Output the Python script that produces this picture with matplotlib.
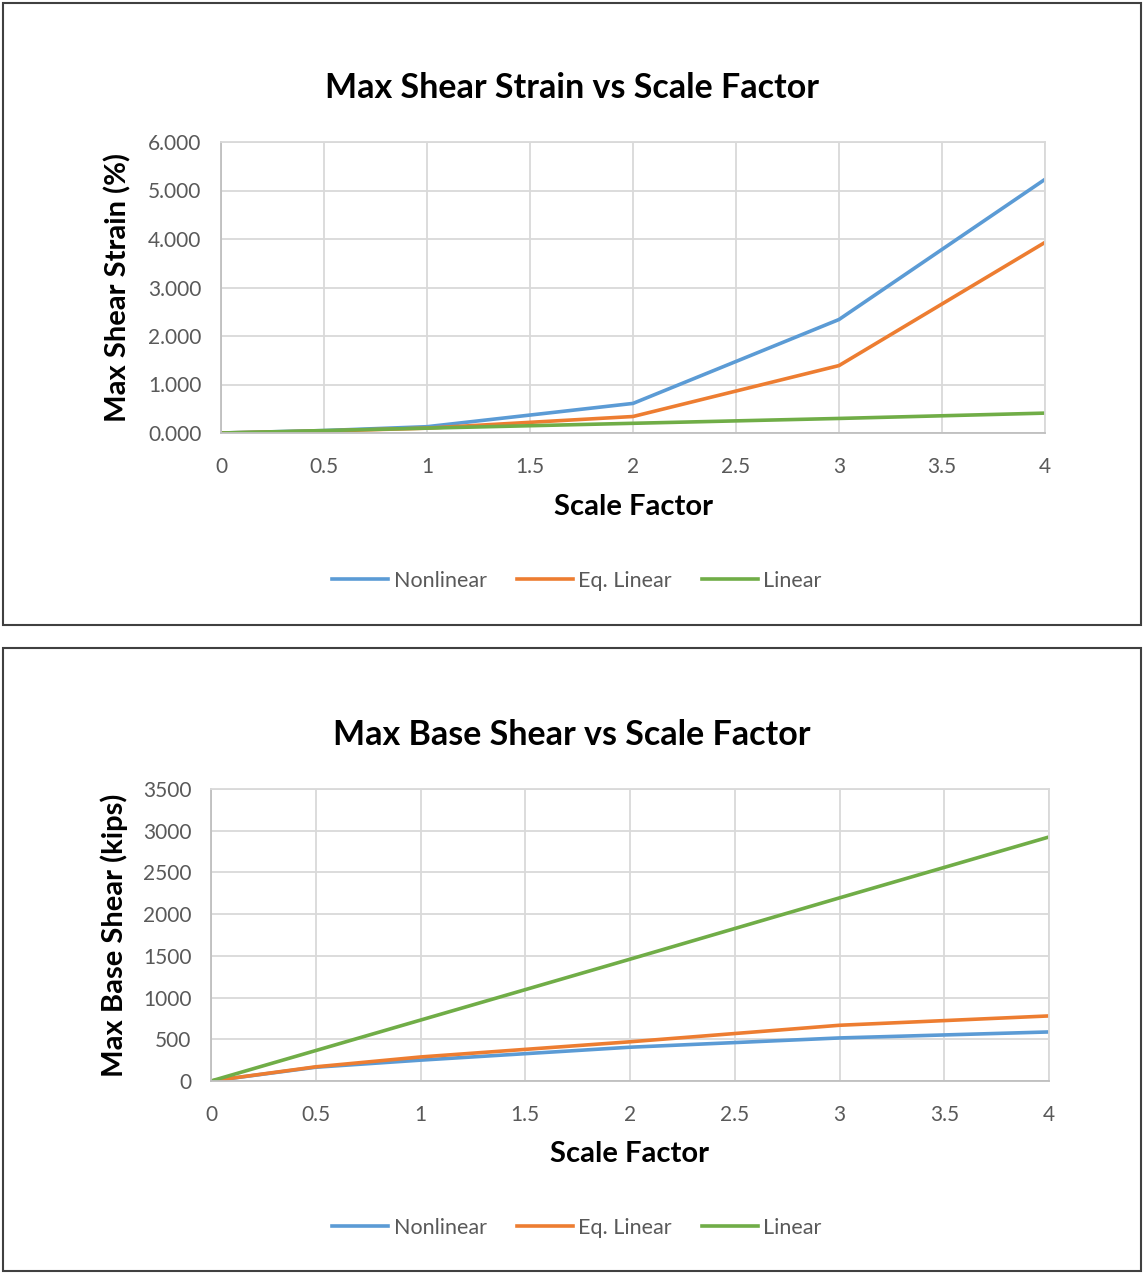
import numpy as np
import matplotlib
matplotlib.use("Agg")
import matplotlib.pyplot as plt
from matplotlib.patches import Rectangle
from matplotlib.lines import Line2D

plt.rcParams['font.family'] = ['Lato', 'DejaVu Sans']

# scale factors used in the runs
scale = [0, 0.5, 1, 2, 3, 4]

# max shear strain (%)
strain_nonlin = [0.0, 0.05, 0.13, 0.61, 2.34, 5.23]
strain_eqlin = [0.0, 0.04, 0.10, 0.34, 1.39, 3.93]
strain_lin = [0.0, 0.05, 0.10, 0.20, 0.30, 0.41]

# max base shear (kips)
base_nonlin = [0, 165, 250, 405, 516, 588]
base_eqlin = [0, 170, 288, 470, 668, 780]
base_lin = [0, 365, 730, 1460, 2195, 2925]

names = ['Nonlinear', 'Eq. Linear', 'Linear']
colors = ['#5B9BD5', '#ED7D31', '#70AD47']
xticks = [0, 0.5, 1, 1.5, 2, 2.5, 3, 3.5, 4]
xtick_labels = ['0', '0.5', '1', '1.5', '2', '2.5', '3', '3.5', '4']

W, H = 1144, 1278
fig = plt.figure(figsize=(W / 100, H / 100), dpi=100)


def fx(px):
    return px / W


def fy(py):
    return 1 - py / H


def box(x0, y0, x1, y1):
    fig.patches.append(Rectangle((fx(x0), fy(y1)), fx(x1 - x0), (y1 - y0) / H,
                                 transform=fig.transFigure, fill=False,
                                 edgecolor='#404040', linewidth=1.5))


def panel(rect, series, yticks, ylabels, title, ylabel, title_y, ylab_x, xlab_y, leg_y):
    l, t, r, b = rect
    ax = fig.add_axes([fx(l), fy(b), fx(r - l), (b - t) / H])
    for vals, name, c in zip(series, names, colors):
        ax.plot(scale, vals, color=c, linewidth=2.6, label=name, solid_capstyle='round')
    ax.set_xlim(0, 4)
    ax.set_ylim(yticks[0], yticks[-1])
    ax.set_xticks(xticks)
    ax.set_xticklabels(xtick_labels)
    ax.set_yticks(yticks)
    ax.set_yticklabels(ylabels)
    ax.grid(True, color='#D9D9D9', linewidth=1.3)
    ax.set_axisbelow(True)
    for s in ax.spines.values():
        s.set_color('#D9D9D9')
        s.set_linewidth(1.3)
    ax.spines['left'].set_color('#BFBFBF')
    ax.spines['bottom'].set_color('#BFBFBF')
    ax.tick_params(length=0, labelsize=15, labelcolor='#595959')
    ax.tick_params(axis='x', pad=17)
    ax.tick_params(axis='y', pad=14)

    fig.text(0.5, fy(title_y), title, ha='center', va='center',
             fontsize=24.5, fontweight='bold', color='#000000')
    fig.text(fx(ylab_x), fy((t + b) / 2), ylabel, ha='center', va='center',
             rotation=90, fontsize=21, fontweight='bold')
    fig.text(fx((l + r) / 2), fy(xlab_y), 'Scale Factor', ha='center', va='center',
             fontsize=21, fontweight='bold')

    handles = [Line2D([], [], color=c, linewidth=2.6) for c in colors]
    leg = fig.legend(handles, names, loc='center', bbox_to_anchor=(fx(577), fy(leg_y)),
                     ncol=3, frameon=False, fontsize=15.5, handlelength=2.6,
                     handletextpad=0.25, columnspacing=1.4)
    for txt in leg.get_texts():
        txt.set_color('#595959')
    return ax


box(3, 3, 1141, 625)
box(3, 648, 1141, 1271)

panel((221, 142, 1045, 433),
      [strain_nonlin, strain_eqlin, strain_lin],
      [0, 1, 2, 3, 4, 5, 6],
      ['0.000', '1.000', '2.000', '3.000', '4.000', '5.000', '6.000'],
      'Max Shear Strain vs Scale Factor', 'Max Shear Strain (%)',
      88, 118, 507, 581)

panel((211, 789, 1049, 1081),
      [base_nonlin, base_eqlin, base_lin],
      [0, 500, 1000, 1500, 2000, 2500, 3000, 3500],
      ['0', '500', '1000', '1500', '2000', '2500', '3000', '3500'],
      'Max Base Shear vs Scale Factor', 'Max Base Shear (kips)',
      735, 114, 1154, 1228)

fig.savefig('out.png', dpi=100, facecolor='white')
